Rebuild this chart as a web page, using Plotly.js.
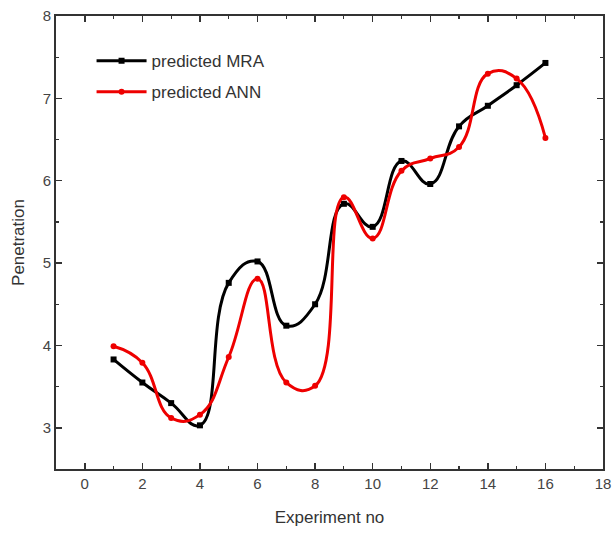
<!DOCTYPE html>
<html>
<head>
<meta charset="utf-8">
<script src="https://cdn.plot.ly/plotly-3.0.1.min.js"></script>
<style>html,body{margin:0;padding:0;background:#fff;}#chart{width:613px;height:535px;}</style>
</head>
<body>
<div id="chart"></div>
<script>
const experiments = [1,2,3,4,5,6,7,8,9,10,11,12,13,14,15,16];
const predictedMRA = [3.83,3.55,3.3,3.03,4.76,5.02,4.24,4.5,5.72,5.44,6.24,5.96,6.66,6.91,7.16,7.43];
const predictedANN = [3.99,3.79,3.12,3.16,3.86,4.81,3.55,3.51,5.8,5.3,6.12,6.27,6.41,7.3,7.24,6.52];
const xTicks = [0,2,4,6,8,10,12,14,16,18];
const yTicks = [3,4,5,6,7,8];

const traces = [
  {x: experiments, y: predictedMRA, name: 'predicted MRA', mode: 'lines+markers', legendgroup: 'a',
   line: {color: '#000000', width: 3, shape: 'spline', smoothing: 1.3},
   marker: {symbol: 'square', size: 6, color: '#000000'}},
  {x: experiments, y: predictedANN, name: 'predicted ANN', mode: 'lines+markers', legendgroup: 'b',
   line: {color: '#ee0000', width: 3, shape: 'spline', smoothing: 1.3},
   marker: {symbol: 'circle', size: 6, color: '#ee0000'}}
];

const FONT = 'Liberation Sans, Arial, sans-serif';
const axisCommon = {
  showgrid: false, zeroline: false, showline: true, linecolor: '#333', linewidth: 1.8,
  mirror: 'ticks', ticks: 'inside', ticklen: 6, tickwidth: 1.5, tickcolor: '#333',
  tickfont: {family: FONT, size: 15, color: '#444'}
};

const layout = {
  width: 613, height: 535,
  margin: {l: 56, r: 10, t: 16, b: 66},
  paper_bgcolor: '#fff', plot_bgcolor: '#fff',
  showlegend: true,
  legend: {x: 0.065, y: 0.94, xanchor: 'left', yanchor: 'top', bgcolor: 'rgba(0,0,0,0)',
    traceorder: 'grouped', tracegroupgap: 6, itemwidth: 50,
    font: {family: FONT, size: 17, color: '#333'}},
  xaxis: Object.assign({}, axisCommon, {
    range: [-1, 18], tickvals: xTicks, ticktext: xTicks.map(String),
    minor: {dtick: 1, tick0: 0, ticks: 'inside', ticklen: 3, tickwidth: 1.2, tickcolor: '#333'},
    title: {text: 'Experiment no', font: {family: FONT, size: 17, color: '#333'}, standoff: 20}
  }),
  yaxis: Object.assign({}, axisCommon, {
    range: [2.5, 8], tickvals: yTicks, ticktext: yTicks.map(String),
    minor: {dtick: 0.5, tick0: 0, ticks: 'inside', ticklen: 3, tickwidth: 1.2, tickcolor: '#333'},
    title: {text: 'Penetration', font: {family: FONT, size: 17, color: '#333'}, standoff: 14}
  })
};

Plotly.newPlot('chart', traces, layout, {displayModeBar: false, staticPlot: true});
</script>
</body>
</html>
